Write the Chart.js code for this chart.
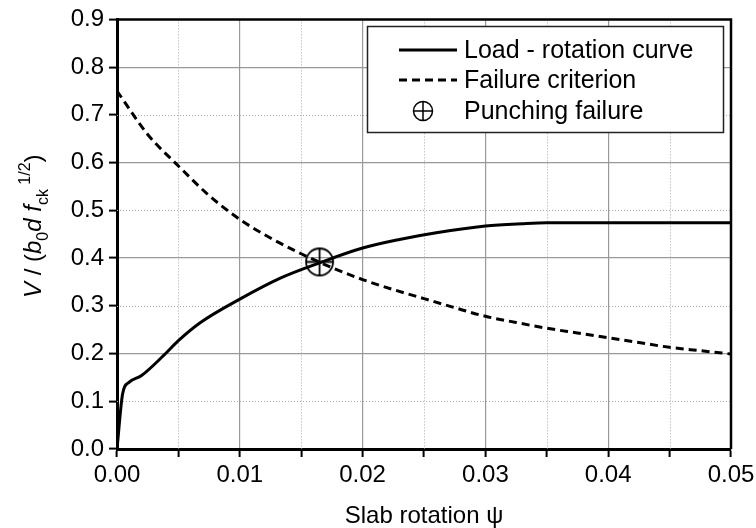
<!DOCTYPE html>
<html>
<head>
<meta charset="utf-8">
<script src="https://cdn.jsdelivr.net/npm/chart.js@4.4.0/dist/chart.umd.min.js"></script>
<style>
html, body { margin: 0; padding: 0; background: #fff; }
#wrap { width: 756px; height: 528px; }
</style>
</head>
<body>
<div id="wrap"><canvas id="chart"></canvas></div>
<script>
// load - rotation curve
const loadRotation = [0, 0.00046, 0.001, 0.002, 0.0038, 0.005, 0.0068, 0.01, 0.0133, 0.0165, 0.02, 0.023, 0.026, 0.03, 0.033, 0.035, 0.05]
const loadValue = [0, 0.116, 0.140, 0.154, 0.196, 0.227, 0.265, 0.314, 0.358, 0.390, 0.421, 0.439, 0.453, 0.467, 0.472, 0.474, 0.474]

// failure criterion
const critRotation = [0, 0.0025, 0.005, 0.0075, 0.01, 0.0125, 0.015, 0.0175, 0.02, 0.0225, 0.025, 0.0275, 0.03, 0.0325, 0.035, 0.0375, 0.04, 0.0425, 0.045, 0.0475, 0.05]
const critValue = [0.75, 0.659, 0.593, 0.531, 0.481, 0.442, 0.409, 0.380, 0.355, 0.334, 0.315, 0.296, 0.278, 0.265, 0.253, 0.243, 0.233, 0.223, 0.213, 0.206, 0.199]

// punching failure point
const failRotation = [0.0165]
const failValue = [0.392]

const seriesNames = ["Load - rotation curve", "Failure criterion", "Punching failure"]
const xTitle = "Slab rotation \u03c8"

const FONT = "'Liberation Sans', Arial, sans-serif"

function pairs(xs, ys) {
    return xs.map((x, i) => ({ x: x, y: ys[i] }))
}

// circle with a plus, used as point style
function crossCircle(r, lw) {
    const size = Math.ceil(2 * r + 2 * lw + 2)
    const cv = document.createElement("canvas")
    cv.width = size
    cv.height = size
    const c = cv.getContext("2d")
    const m = size / 2
    c.strokeStyle = "#000"
    c.lineWidth = lw
    c.beginPath()
    c.arc(m, m, r, 0, Math.PI * 2)
    c.moveTo(m - r, m)
    c.lineTo(m + r, m)
    c.moveTo(m, m - r)
    c.lineTo(m, m + r)
    c.stroke()
    return cv
}
const bigMarker = crossCircle(13.5, 1.8)
const smallMarker = crossCircle(9.5, 1.5)

const extras = {
    id: "extras",
    beforeDatasetsDraw(chart) {
        const ctx = chart.ctx
        const a = chart.chartArea
        const xs = chart.scales.x
        const ys = chart.scales.y
        ctx.save()
        ctx.strokeStyle = "#a8a8a8"
        ctx.lineWidth = 1
        ctx.setLineDash([1, 2])
        xs.ticks.forEach((t, i) => {
            if (i % 2 === 1) {
                const px = Math.round(xs.getPixelForValue(t.value)) + 0.5
                ctx.beginPath()
                ctx.moveTo(px, a.top)
                ctx.lineTo(px, a.bottom)
                ctx.stroke()
            }
        })
        ys.ticks.forEach((t, i) => {
            if (i % 2 === 1 && i < ys.ticks.length - 1) {
                const py = Math.round(ys.getPixelForValue(t.value)) + 0.5
                ctx.beginPath()
                ctx.moveTo(a.left, py)
                ctx.lineTo(a.right, py)
                ctx.stroke()
            }
        })
        ctx.restore()
    },
    afterDraw(chart) {
        const ctx = chart.ctx
        const a = chart.chartArea
        ctx.save()
        // top and right frame
        ctx.strokeStyle = "#000"
        ctx.lineWidth = 2.5
        ctx.beginPath()
        ctx.moveTo(a.left, a.top)
        ctx.lineTo(a.right, a.top)
        ctx.lineTo(a.right, a.bottom)
        ctx.stroke()

        // legend
        const lx = 367, ly = 26, lw = 356, lh = 106
        ctx.fillStyle = "#fff"
        ctx.fillRect(lx, ly, lw, lh)
        ctx.strokeStyle = "#222"
        ctx.lineWidth = 1.5
        ctx.strokeRect(lx + 0.5, ly + 0.5, lw, lh)

        const rows = [50, 80, 111]
        ctx.lineWidth = 3
        ctx.strokeStyle = "#000"
        ctx.beginPath()
        ctx.moveTo(399, rows[0])
        ctx.lineTo(457, rows[0])
        ctx.stroke()
        ctx.setLineDash([8, 5])
        ctx.beginPath()
        ctx.moveTo(399, rows[1])
        ctx.lineTo(457, rows[1])
        ctx.stroke()
        ctx.setLineDash([])
        ctx.drawImage(smallMarker, 423 - smallMarker.width / 2, rows[2] - smallMarker.height / 2)

        ctx.fillStyle = "#000"
        ctx.font = "25px " + FONT
        ctx.textBaseline = "middle"
        ctx.textAlign = "left"
        seriesNames.forEach((n, i) => ctx.fillText(n, 464, rows[i] + 1))

        // y axis title: V / (b0 d fck^1/2)
        const parts = [
            ["V", "italic 24px", 0],
            [" / (", "24px", 0],
            ["b", "italic 24px", 0],
            ["0", "16px", 7],
            ["d", "italic 24px", 0],
            [" ", "24px", 0],
            ["f", "italic 24px", 0],
            ["ck", "16px", 7],
            [" 1/2", "16px", -11],
            [")", "24px", 0]
        ]
        let total = 0
        parts.forEach(p => {
            ctx.font = p[1] + " " + FONT
            p.push(ctx.measureText(p[0]).width)
            total += p[3]
        })
        ctx.translate(33, (a.top + a.bottom) / 2 - 8)
        ctx.rotate(-Math.PI / 2)
        ctx.textBaseline = "alphabetic"
        let cx = -total / 2
        parts.forEach(p => {
            ctx.font = p[1] + " " + FONT
            ctx.fillText(p[0], cx, 8 + p[2])
            cx += p[3]
        })
        ctx.restore()
    }
}

const chart = new Chart(
    document.getElementById("chart"),
    {
        type: "line",
        data: {
            datasets: [
                {
                    label: seriesNames[0],
                    data: pairs(loadRotation, loadValue),
                    borderColor: "#000",
                    borderWidth: 3,
                    pointRadius: 0,
                    cubicInterpolationMode: "monotone"
                },
                {
                    label: seriesNames[1],
                    data: pairs(critRotation, critValue),
                    borderColor: "#000",
                    borderWidth: 3,
                    borderDash: [8, 5],
                    pointRadius: 0,
                    cubicInterpolationMode: "monotone"
                },
                {
                    label: seriesNames[2],
                    data: pairs(failRotation, failValue),
                    showLine: false,
                    pointStyle: bigMarker,
                    pointRadius: 14
                }
            ]
        },
        options: {
            responsive: true,
            maintainAspectRatio: false,
            animation: false,
            layout: {
                padding: { left: 0, top: 17, right: 25, bottom: 0 }
            },
            plugins: {
                legend: { display: false },
                tooltip: { enabled: false }
            },
            scales: {
                x: {
                    type: "linear",
                    min: 0,
                    max: 0.05,
                    afterFit(scale) {
                        scale.height = 79
                        scale.paddingLeft = 0
                        scale.paddingRight = 0
                    },
                    ticks: {
                        stepSize: 0.005,
                        autoSkip: false,
                        maxRotation: 0,
                        color: "#000",
                        padding: 4,
                        font: { family: FONT, size: 24 },
                        callback: (v, i) => i % 2 === 0 ? v.toFixed(2) : ""
                    },
                    grid: {
                        color: c => c.index % 2 === 0 ? "#999" : "rgba(0,0,0,0)",
                        lineWidth: 1.2,
                        tickColor: "#000",
                        tickWidth: 2,
                        tickLength: 8
                    },
                    border: { color: "#000", width: 3 },
                    title: {
                        display: true,
                        text: xTitle,
                        color: "#000",
                        font: { family: FONT, size: 24 },
                        padding: { top: 0, bottom: -3 }
                    }
                },
                y: {
                    min: 0,
                    max: 0.9,
                    afterFit(scale) { scale.width = 117 },
                    ticks: {
                        stepSize: 0.1,
                        color: "#000",
                        padding: 5,
                        font: { family: FONT, size: 24 },
                        callback: v => v.toFixed(1)
                    },
                    grid: {
                        color: c => c.index % 2 === 0 ? "#999" : "rgba(0,0,0,0)",
                        lineWidth: 1.2,
                        tickColor: "#000",
                        tickWidth: 2,
                        tickLength: 8
                    },
                    border: { color: "#000", width: 3 }
                }
            }
        },
        plugins: [extras]
    }
)
</script>
</body>
</html>
